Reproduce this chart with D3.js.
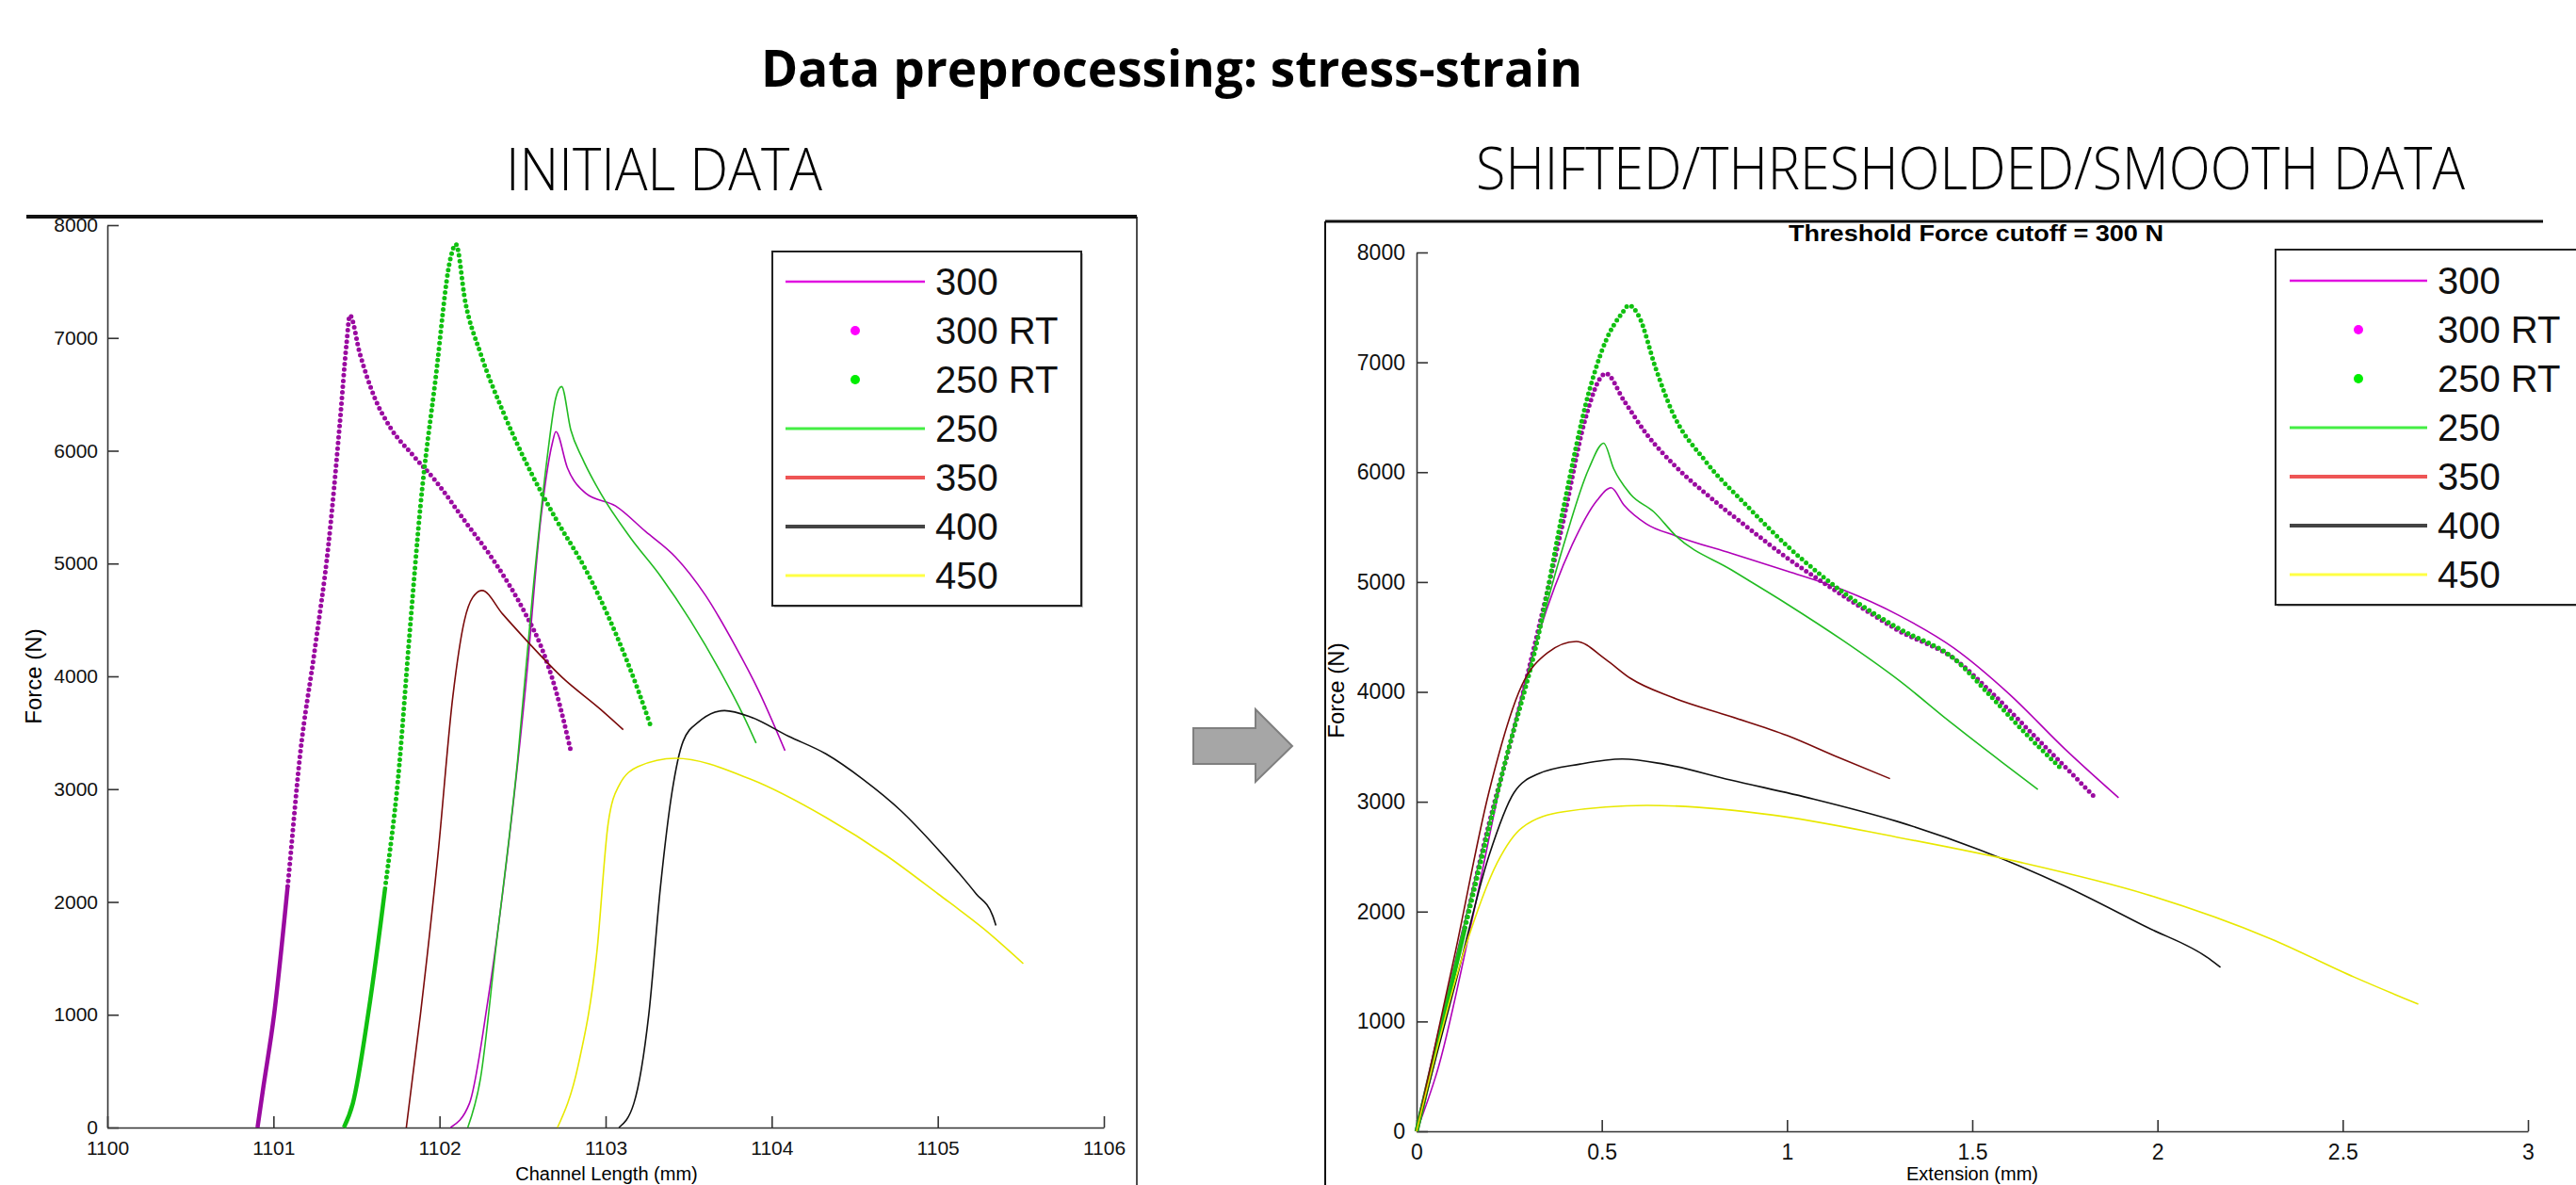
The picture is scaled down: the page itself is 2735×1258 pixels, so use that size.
<!DOCTYPE html>
<html>
<head>
<meta charset="UTF-8">
<title>Data preprocessing: stress-strain</title>
<script src="https://d3js.org/d3.v7.min.js"></script>
<style>
  html, body { margin: 0; padding: 0; background: #fff; overflow: hidden; }
  svg { display: block; }
  .tick text { font-family: "Liberation Sans", Arial, sans-serif; fill: #111; }
</style>
</head>
<body>
<div id="chart"></div>
<script>
// ---- data ----
const seriesNames = ["300", "300 RT", "250 RT", "250", "350", "400", "450"]

// initial data: [channel length (mm), force (N)]
const init300 = [[1102.066,0],[1102.18,214],[1102.29,1115],[1102.43,2693],[1102.52,3932],[1102.61,5397],[1102.68,6073],[1102.70,6169],[1102.77,5848],[1102.88,5623],[1103.06,5510],[1103.24,5285],[1103.42,5059],[1103.60,4721],[1103.78,4270],[1103.92,3876],[1104.08,3341]]
const init300RT = [[1100.904,0],[1100.936,327],[1101.004,1003],[1101.085,2130],[1101.16,3300],[1101.25,4250],[1101.33,5150],[1101.40,6250],[1101.44,6950],[1101.46,7200],[1101.52,6862],[1101.61,6468],[1101.70,6214],[1101.84,5960],[1101.975,5735],[1102.156,5369],[1102.337,5003],[1102.518,4552],[1102.61,4270],[1102.70,3876],[1102.79,3341]]
const init250RT = [[1101.424,0],[1101.478,214],[1101.57,1003],[1101.673,2130],[1101.75,3087],[1101.82,4383],[1101.885,5510],[1101.976,6637],[1102.066,7707],[1102.098,7831],[1102.156,7313],[1102.247,6862],[1102.38,6355],[1102.518,5904],[1102.70,5397],[1102.88,4946],[1103.06,4383],[1103.196,3876],[1103.27,3566]]
const init250 = [[1102.17,0],[1102.247,439],[1102.337,1566],[1102.47,3256],[1102.56,4721],[1102.65,5960],[1102.70,6468],[1102.735,6569],[1102.79,6186],[1102.86,5932],[1102.97,5623],[1103.15,5228],[1103.33,4890],[1103.51,4496],[1103.69,4045],[1103.83,3651],[1103.906,3408]]
const init350 = [[1101.80,0],[1101.885,1003],[1101.99,2411],[1102.08,3820],[1102.15,4496],[1102.20,4700],[1102.256,4761],[1102.38,4552],[1102.518,4327],[1102.74,3989],[1102.97,3707],[1103.106,3527]]
const init400 = [[1103.08,0],[1103.17,214],[1103.26,1003],[1103.33,2130],[1103.40,2975],[1103.467,3425],[1103.558,3594],[1103.716,3696],[1103.874,3639],[1104.10,3470],[1104.326,3313],[1104.55,3087],[1104.78,2806],[1105.00,2468],[1105.23,2073],[1105.33,1880],[1105.35,1792]]
const init450 = [[1102.71,0],[1102.835,552],[1102.948,1566],[1103.015,2693],[1103.08,3031],[1103.196,3200],[1103.42,3273],[1103.874,3087],[1104.326,2749],[1104.69,2411],[1105.0,2073],[1105.276,1763],[1105.515,1453]]

// shifted / thresholded / smooth data: [extension (mm), force (N)]
const sh300 = [[0,0],[0.06,596],[0.15,1926],[0.24,3372],[0.33,4529],[0.42,5338],[0.487,5743],[0.525,5859],[0.56,5700],[0.62,5530],[0.70,5420],[0.85,5260],[1.0,5100],[1.15,4930],[1.30,4700],[1.45,4400],[1.60,3980],[1.75,3480],[1.895,3036]]
const sh300RT = [[0,0],[0.128,1839],[0.195,2793],[0.263,3661],[0.33,4587],[0.397,5570],[0.454,6466],[0.499,6871],[0.51,6900],[0.56,6650],[0.62,6350],[0.70,6050],[0.80,5750],[0.90,5480],[1.0,5220],[1.1,4990],[1.2,4770],[1.3,4560],[1.453,4297],[1.55,4000],[1.65,3660],[1.75,3320],[1.835,3025]]
const sh250RT = [[0,0],[0.128,1810],[0.24,3372],[0.33,4529],[0.397,5685],[0.465,6726],[0.51,7189],[0.555,7449],[0.573,7519],[0.60,7420],[0.645,6950],[0.69,6550],[0.78,6100],[0.89,5700],[1.0,5330],[1.1,5040],[1.2,4790],[1.3,4580],[1.453,4297],[1.55,3960],[1.65,3600],[1.745,3285]]
const sh250 = [[0,0],[0.173,2504],[0.285,3950],[0.397,5338],[0.465,6032],[0.505,6264],[0.532,6032],[0.577,5801],[0.64,5640],[0.70,5420],[0.85,5110],[1.0,4800],[1.15,4470],[1.30,4110],[1.45,3700],[1.58,3360],[1.677,3112]]
const sh350 = [[0,0],[0.105,1637],[0.195,3083],[0.285,4066],[0.353,4355],[0.431,4459],[0.51,4297],[0.577,4124],[0.69,3950],[0.847,3777],[1.0,3603],[1.14,3401],[1.278,3210]]
const sh400 = [[0,0],[0.105,1348],[0.195,2504],[0.263,3083],[0.33,3256],[0.442,3343],[0.555,3389],[0.667,3343],[0.847,3198],[1.071,3025],[1.296,2822],[1.52,2562],[1.745,2240],[1.97,1860],[2.14,1570],[2.17,1492]]
const sh450 = [[0,0],[0.128,1637],[0.218,2447],[0.285,2765],[0.397,2909],[0.622,2967],[0.959,2880],[1.296,2678],[1.632,2447],[1.97,2157],[2.306,1752],[2.53,1405],[2.704,1157]]

const forceTicks = [0, 1000, 2000, 3000, 4000, 5000, 6000, 7000, 8000]
const lengthTicks = [1100, 1101, 1102, 1103, 1104, 1105, 1106]
const extTicks = [0, 0.5, 1, 1.5, 2, 2.5, 3]

// ---- styles ----
const style = {
  "300":    { line: "#b000b8", legend: "#e010e0", w: 1.6, lw: 2.5 },
  "300 RT": { dot: "#9a0aa0", legend: "#ff00ff" },
  "250 RT": { dot: "#10c010", legend: "#00ee00" },
  "250":    { line: "#22bb22", legend: "#44ee44", w: 1.6, lw: 3 },
  "350":    { line: "#7a0a0a", legend: "#ee5555", w: 1.6, lw: 4 },
  "400":    { line: "#111111", legend: "#444444", w: 1.6, lw: 4 },
  "450":    { line: "#e8e800", legend: "#ffff44", w: 1.6, lw: 3 }
}

const W = 2735, H = 1258
const svg = d3.select('#chart').append('svg').attr('width', W).attr('height', H)
svg.append('rect').attr('width', W).attr('height', H).attr('fill', '#fff')

// titles
svg.append('text').text('Data preprocessing: stress-strain')
  .attr('x', 1244).attr('y', 92).attr('text-anchor', 'middle')
  .attr('textLength', 872).attr('lengthAdjust', 'spacingAndGlyphs')
  .style('font-family', '"Open Sans", sans-serif').style('font-weight', 700).style('font-size', '54px')
svg.append('text').text('INITIAL DATA')
  .attr('x', 705).attr('y', 202).attr('text-anchor', 'middle')
  .attr('textLength', 336).attr('lengthAdjust', 'spacingAndGlyphs')
  .style('font-family', '"Open Sans", sans-serif').style('font-weight', 300).style('font-size', '62px')
svg.append('text').text('SHIFTED/THRESHOLDED/SMOOTH DATA')
  .attr('x', 2092).attr('y', 201).attr('text-anchor', 'middle')
  .attr('textLength', 1050).attr('lengthAdjust', 'spacingAndGlyphs')
  .style('font-family', '"Open Sans", sans-serif').style('font-weight', 300).style('font-size', '62px')

// arrow between the two panels
svg.append('polygon')
  .attr('points', '1267,773 1333,773 1333,753 1372,792 1333,830 1333,811 1267,811')
  .attr('fill', '#a6a6a6').attr('stroke', '#7f7f7f').attr('stroke-width', 2)

const panels = [
  {
    id: 'init', data: [init300, init300RT, init250RT, init250, init350, init400, init450],
    x: d3.scaleLinear().domain([1100, 1106]).range([114, 1172]),
    y: d3.scaleLinear().domain([0, 8000]).range([1197, 239]),
    xticks: lengthTicks, xlabel: 'Channel Length (mm)', solidBelow: 2130,
    yPad: 10, xPad: 14, fs: 21,
    ylab: [36, 718], xlab: [644, 1253],
    legend: { x: 820, y: 267, w: 328, h: 376, y0: 299, l0: 834, l1: 982, mx: 908, tx: 993 },
    frame: [[28, 230, 1207, 230, 4], [1207, 230, 1207, 1258, 1.5]]
  },
  {
    id: 'shift', data: [sh300, sh300RT, sh250RT, sh250, sh350, sh400, sh450],
    x: d3.scaleLinear().domain([0, 3]).range([1504, 2684]),
    y: d3.scaleLinear().domain([0, 8000]).range([1201, 268]),
    xticks: extTicks, xlabel: 'Extension (mm)', solidBelow: 1840,
    yPad: 12, xPad: 13, fs: 23,
    ylab: [1419, 733], xlab: [2094, 1253],
    legend: { x: 2416, y: 265, w: 400, h: 377, y0: 298, l0: 2431, l1: 2577, mx: 2504, tx: 2588 },
    frame: [[1407, 235, 2700, 235, 3], [1407, 235, 1407, 1258, 2]]
  }
]

panels.forEach(p => {
  const g = svg.append('g')
  p.frame.forEach(f => {
    g.append('line').attr('x1', f[0]).attr('y1', f[1]).attr('x2', f[2]).attr('y2', f[3])
      .attr('stroke', '#111').attr('stroke-width', f[4])
  })

  // axes
  const yAxis = d3.axisLeft(p.y).tickValues(forceTicks).tickFormat(d3.format('d'))
    .tickSizeInner(-12).tickSizeOuter(0).tickPadding(p.yPad)
  const xAxis = d3.axisBottom(p.x).tickValues(p.xticks).tickFormat(d => String(d))
    .tickSizeInner(-12).tickSizeOuter(0).tickPadding(p.xPad)
  const ya = g.append('g').attr('transform', `translate(${p.x.range()[0]},0)`).call(yAxis)
  const xa = g.append('g').attr('transform', `translate(0,${p.y.range()[0]})`).call(xAxis)
  ;[ya, xa].forEach(a => {
    a.selectAll('path, line').attr('stroke', '#333').attr('stroke-width', 1.6)
    a.selectAll('text').style('font-size', p.fs + 'px')
  })
  xa.selectAll('text').attr('dy', '0.72em')

  g.append('text').text('Force (N)')
    .attr('transform', `translate(${p.ylab[0]},${p.ylab[1]}) rotate(-90)`)
    .attr('text-anchor', 'middle').attr('dy', '0.35em')
    .style('font-family', '"Liberation Sans", Arial, sans-serif').style('font-size', '24px')
  g.append('text').text(p.xlabel).attr('x', p.xlab[0]).attr('y', p.xlab[1]).attr('text-anchor', 'middle')
    .style('font-family', '"Liberation Sans", Arial, sans-serif').style('font-size', '20px')

  // clip regions: RT samples are so dense at low force that they read as a solid line
  const ySolid = p.y(p.solidBelow)
  svg.append('clipPath').attr('id', `${p.id}-low`).append('rect')
    .attr('x', 0).attr('y', ySolid).attr('width', W).attr('height', H - ySolid)
  svg.append('clipPath').attr('id', `${p.id}-high`).append('rect')
    .attr('x', 0).attr('y', 0).attr('width', W).attr('height', ySolid)

  const line = d3.line().x(d => p.x(d[0])).y(d => p.y(d[1])).curve(d3.curveMonotoneX)
  const plot = g.append('g')

  seriesNames.forEach((name, i) => {
    const s = style[name]
    if (s.dot) {
      plot.append('path').attr('d', line(p.data[i])).attr('fill', 'none')
        .attr('stroke', s.dot).attr('stroke-width', 4.5)
        .attr('clip-path', `url(#${p.id}-low)`)
      plot.append('path').attr('d', line(p.data[i])).attr('fill', 'none')
        .attr('stroke', s.dot).attr('stroke-width', 5).attr('stroke-linecap', 'round')
        .attr('stroke-dasharray', '0 6')
        .attr('clip-path', `url(#${p.id}-high)`)
    } else {
      plot.append('path').attr('d', line(p.data[i])).attr('fill', 'none')
        .attr('stroke', s.line).attr('stroke-width', s.w)
    }
  })

  // legend
  const L = p.legend
  const lg = g.append('g')
  lg.append('rect').attr('x', L.x + 2).attr('y', L.y + 2).attr('width', L.w).attr('height', L.h)
    .attr('fill', '#888').attr('opacity', 0.5)
  lg.append('rect').attr('x', L.x).attr('y', L.y).attr('width', L.w).attr('height', L.h)
    .attr('fill', '#fff').attr('stroke', '#222').attr('stroke-width', 2)
  seriesNames.forEach((name, i) => {
    const s = style[name]
    const yy = L.y0 + i * 52
    if (s.dot) {
      lg.append('circle').attr('cx', L.mx).attr('cy', yy).attr('r', 5).attr('fill', s.legend)
    } else {
      lg.append('line').attr('x1', L.l0).attr('x2', L.l1).attr('y1', yy).attr('y2', yy)
        .attr('stroke', s.legend).attr('stroke-width', s.lw)
    }
    lg.append('text').text(name).attr('x', L.tx).attr('y', yy).attr('dy', '0.36em')
      .style('font-family', '"Liberation Sans", Arial, sans-serif').style('font-size', '40px').style('fill', '#111')
  })
})

// small title inside the right panel
svg.append('text').text('Threshold Force cutoff = 300 N')
  .attr('x', 2098).attr('y', 256).attr('text-anchor', 'middle')
  .attr('textLength', 398).attr('lengthAdjust', 'spacingAndGlyphs')
  .style('font-family', '"Liberation Sans Narrow", "Liberation Sans", Arial, sans-serif')
  .style('font-weight', 700).style('font-size', '24px')
</script>
</body>
</html>
